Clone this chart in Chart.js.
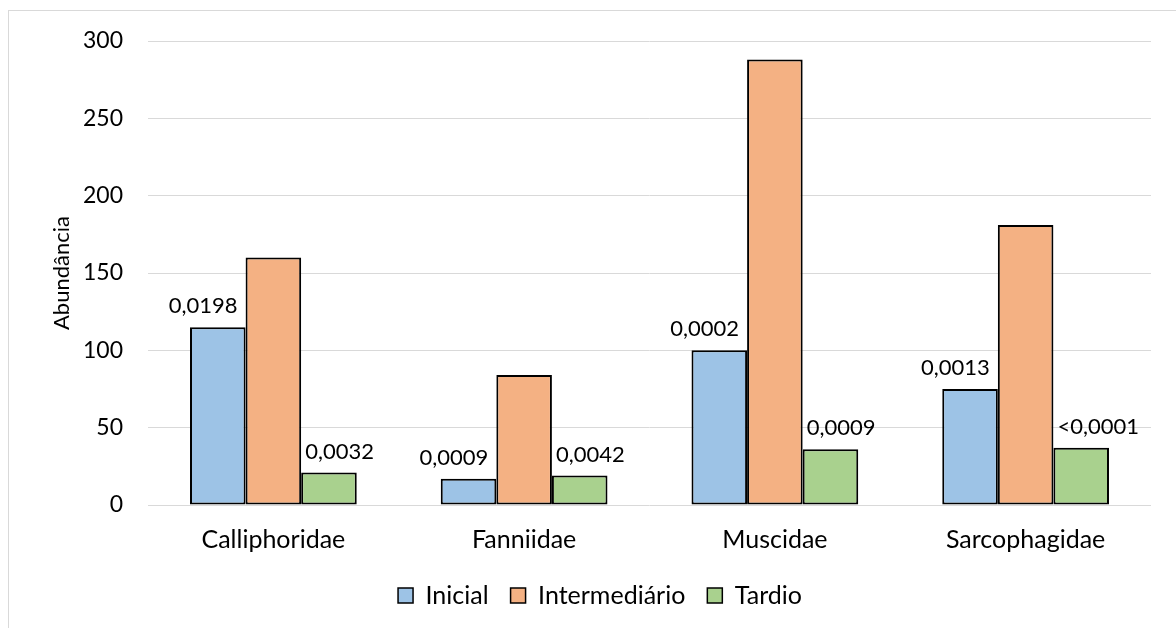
<!DOCTYPE html>
<html>
<head>
<meta charset="utf-8">
<script src="https://cdn.jsdelivr.net/npm/chart.js@4.4.1/dist/chart.umd.min.js"></script>
<style>
  html, body { margin: 0; padding: 0; background: #ffffff; overflow: hidden; }
  #wrap { position: relative; width: 1176px; height: 628px; }
  #frame { position: absolute; left: 8px; top: 10px; width: 1200px; height: 700px; border: 1px solid #d9d9d9; box-sizing: border-box; }
  #chart { position: absolute; left: 0; top: 0; }
</style>
</head>
<body>
<div id="wrap">
  <div id="frame"></div>
  <canvas id="chart" width="1176" height="628"></canvas>
</div>
<script>
// families and abundance per decomposition stage
const familias = ["Calliphoridae", "Fanniidae", "Muscidae", "Sarcophagidae"];
const inicial = [115, 17, 100, 75];
const intermediario = [160, 84, 288, 181];
const tardio = [21, 19, 36, 37];
// p-values shown over the Inicial and Tardio bars
const pInicial = ["0,0198", "0,0009", "0,0002", "0,0013"];
const pTardio = ["0,0032", "0,0042", "0,0009", "<0,0001"];
const yTicks = [0, 50, 100, 150, 200, 250, 300];

const FONT = "Lato";

// p-value labels: left of the Inicial bar top, right of the Tardio bar top
const pLabels = {
    id: "pLabels",
    afterDatasetsDraw(chart) {
        const ctx = chart.ctx;
        ctx.save();
        ctx.font = "22px " + FONT;
        ctx.fillStyle = "#000000";
        ctx.textBaseline = "bottom";
        chart.getDatasetMeta(0).data.forEach((bar, i) => {
            ctx.textAlign = "right";
            ctx.fillText(pInicial[i], bar.x + bar.width / 2 - 8, bar.y - 10);
        });
        chart.getDatasetMeta(2).data.forEach((bar, i) => {
            ctx.textAlign = "left";
            ctx.fillText(pTardio[i], bar.x - bar.width / 2 + 4, bar.y - 10);
        });
        ctx.restore();
    }
};

new Chart(document.getElementById("chart"), {
    type: "bar",
    data: {
        labels: familias,
        datasets: [
            { label: "Inicial", data: inicial, backgroundColor: "#9dc3e6" },
            { label: "Intermediário", data: intermediario, backgroundColor: "#f4b183" },
            { label: "Tardio", data: tardio, backgroundColor: "#a9d18e" }
        ]
    },
    options: {
        responsive: false,
        animation: false,
        layout: { padding: { top: 41, right: 25, bottom: 10, left: 49 } },
        datasets: {
            bar: {
                borderColor: "#000000",
                borderWidth: 2,
                borderSkipped: false,
                categoryPercentage: 0.665,
                barPercentage: 1
            }
        },
        scales: {
            x: {
                grid: { display: false },
                border: { display: false },
                ticks: { color: "#000000", font: { family: FONT, size: 25 }, padding: 12 },
                afterFit(scale) { scale.height = 56; }
            },
            y: {
                min: 0,
                max: 300,
                afterBuildTicks(scale) { scale.ticks = yTicks.map(v => ({ value: v })); },
                grid: { color: "#d9d9d9", lineWidth: 1, drawTicks: false },
                border: { display: false },
                ticks: { color: "#000000", font: { family: FONT, size: 23 }, padding: 25 },
                title: {
                    display: true,
                    text: "Abundância",
                    color: "#000000",
                    font: { family: FONT, size: 22 },
                    padding: { top: 0, bottom: 0 }
                },
                afterFit(scale) { scale.width = 99; }
            }
        },
        plugins: {
            legend: {
                position: "bottom",
                labels: {
                    color: "#000000",
                    font: { family: FONT, size: 25 },
                    boxWidth: 15,
                    boxHeight: 15,
                    padding: 22,
                    generateLabels(chart) {
                        return chart.data.datasets.map((ds, i) => ({
                            text: ds.label,
                            fillStyle: ds.backgroundColor,
                            strokeStyle: "#000000",
                            lineWidth: 1.5,
                            datasetIndex: i
                        }));
                    }
                }
            },
            tooltip: { enabled: false }
        }
    },
    plugins: [pLabels]
});
</script>
</body>
</html>
